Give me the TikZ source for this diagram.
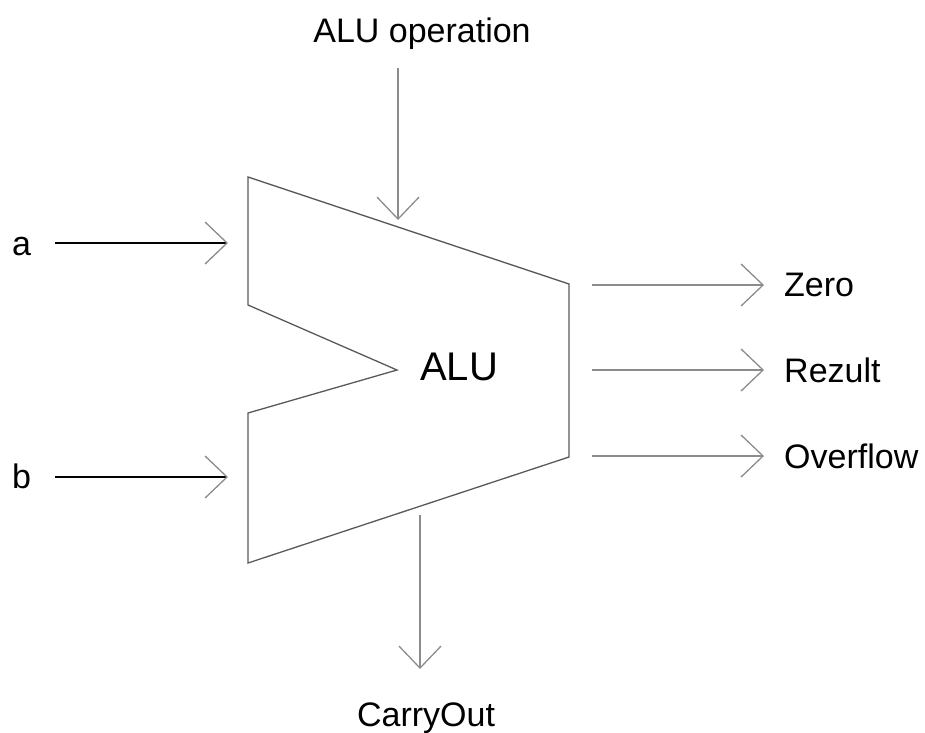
\documentclass[tikz,border=0pt]{standalone}
\usepackage{fontspec}
\setmainfont{Liberation Sans}
\usetikzlibrary{arrows.meta,positioning}
\begin{document}
\begin{tikzpicture}[x=1pt,y=-1pt,
  lbl/.style={inner sep=0pt,font=\fontsize{34}{40}\selectfont},
  barb/.style={-{Straight Barb[length=22pt,width=42pt,color=black!45]}},
  garrow/.style={barb,line width=1.3pt,black!45},
  karrow/.style={barb,line width=1.3pt,black}]
\useasboundingbox (0,0) rectangle (925,732);
\coordinate (tl) at (248,177);
\coordinate (tr) at (569,284);
\coordinate (br) at (569,457);
\coordinate (bl) at (248,563);
\coordinate (nb) at (248,413);
\coordinate (tip) at (397,370);
\coordinate (nt) at (248,305);
\draw[line width=1.3pt,black!65,line join=miter] (tl) -- (tr) -- (br) -- (bl) -- (nb) -- (tip) -- (nt) -- cycle;
\node[lbl,font=\fontsize{40}{46}\selectfont,anchor=base west] (alu) at (420,380) {ALU};
\node[lbl,anchor=base] (op) at (422,42) {ALU operation};
\coordinate (opin) at (398,68);
\coordinate (opout) at (398,220);
\draw[garrow] (opin) -- (opout);
\node[lbl,anchor=base west] (a) at (12,255) {a};
\node[lbl,anchor=base west] (b) at (12,488) {b};
\coordinate (ain) at (55,243);
\coordinate (aout) at (228,243);
\coordinate (bin) at (55,477);
\coordinate (bout) at (228,477);
\draw[karrow] (ain) -- (aout);
\draw[karrow] (bin) -- (bout);
\coordinate (zin) at (592,285);
\coordinate (zout) at (764,285);
\coordinate (rin) at (592,370);
\coordinate (rout) at (764,370);
\coordinate (oin) at (592,456);
\coordinate (oout) at (764,456);
\draw[garrow] (zin) -- (zout);
\draw[garrow] (rin) -- (rout);
\draw[garrow] (oin) -- (oout);
\node[lbl,anchor=west,right=20pt of zout] (zero) {Zero};
\node[lbl,anchor=west,right=20pt of rout] (rez) {Rezult};
\node[lbl,anchor=west,right=20pt of oout] (ovf) {Overflow};
\coordinate (cin) at (420,515);
\coordinate (cout) at (420,669);
\draw[garrow] (cin) -- (cout);
\node[lbl,anchor=base] (carry) at (426,726) {CarryOut};
\end{tikzpicture}
\end{document}
